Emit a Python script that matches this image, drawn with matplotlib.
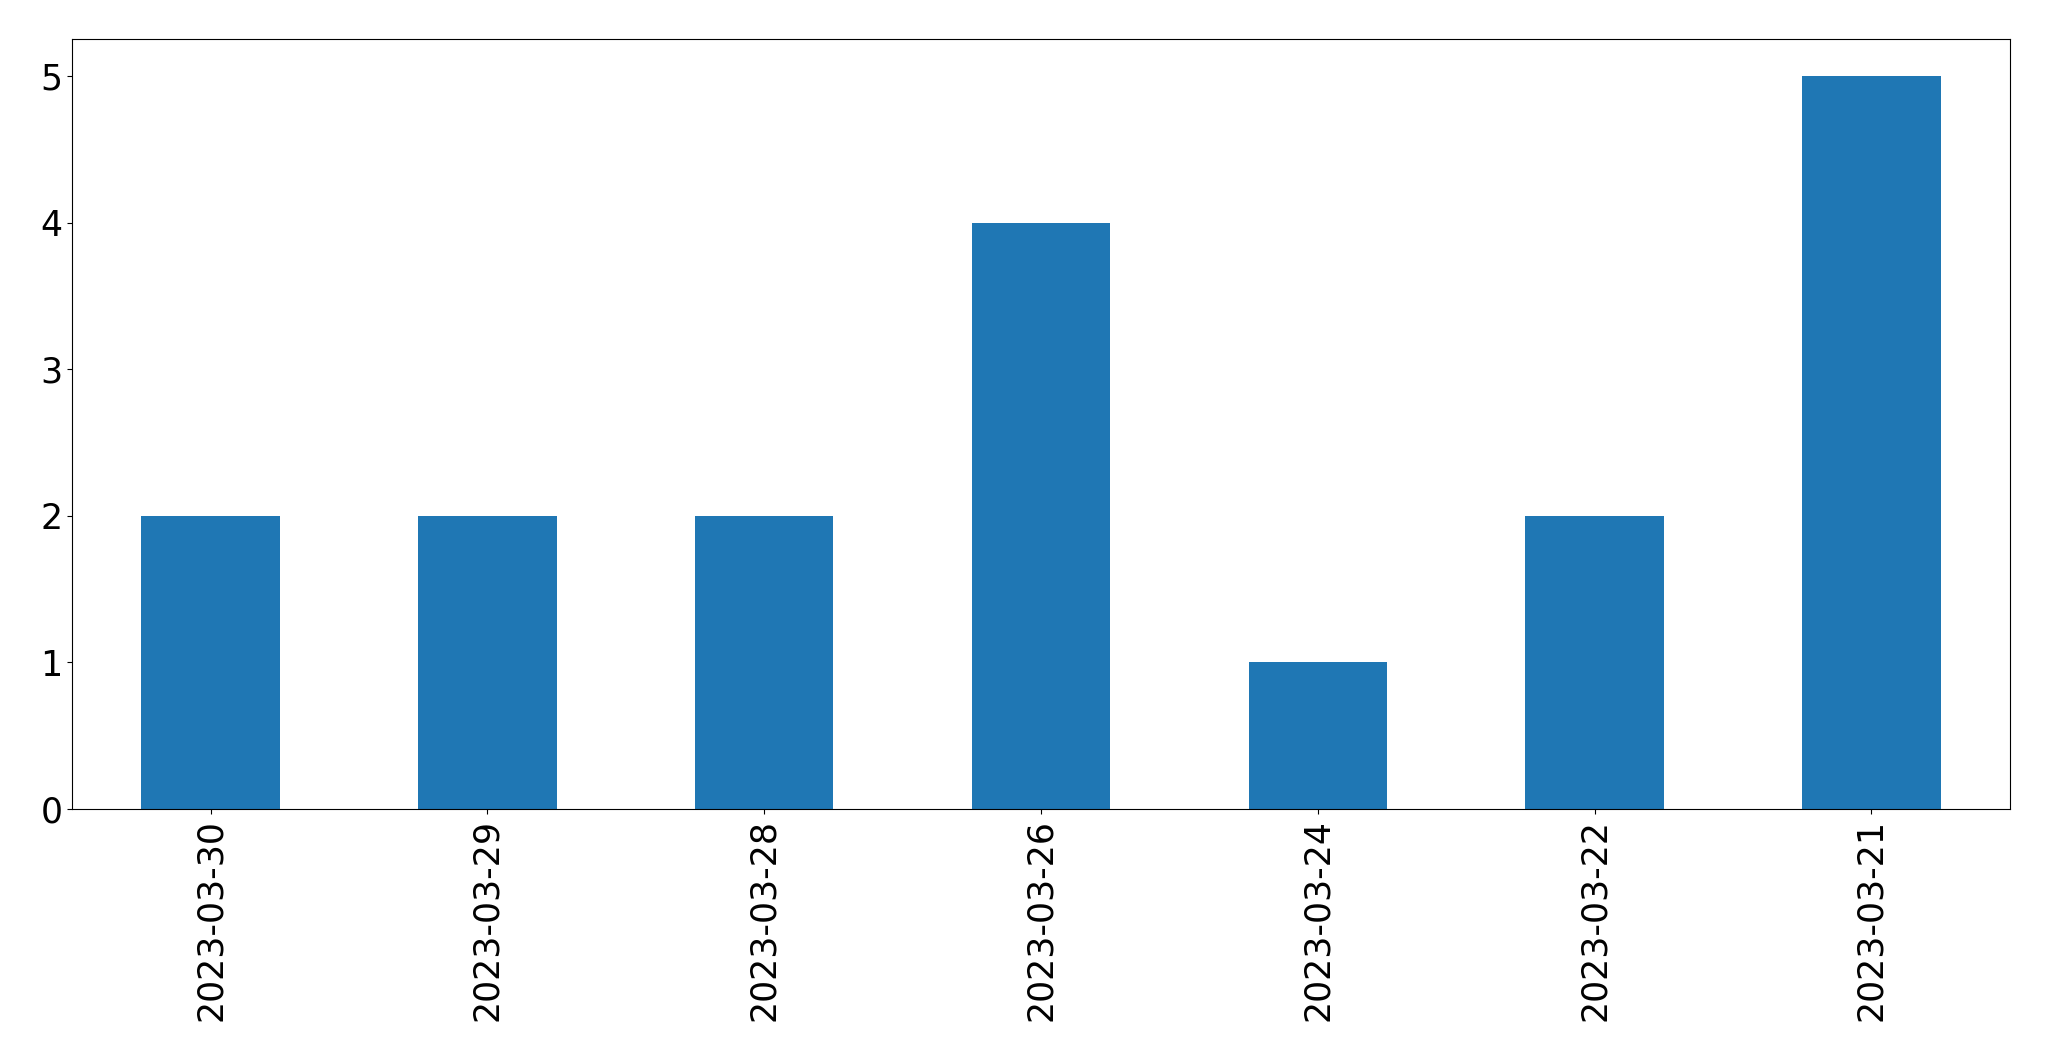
import matplotlib
matplotlib.use("Agg")
import matplotlib.pyplot as plt

dates = ["2023-03-30", "2023-03-29", "2023-03-28", "2023-03-26", "2023-03-24", "2023-03-22", "2023-03-21"]
counts = [2, 2, 2, 4, 1, 2, 5]

fig = plt.figure(figsize=(20.49, 10.61), dpi=100)
ax = fig.add_axes([72.3/2049, 1-809/1061, (2009.7-72.3)/2049, (809-39.3)/1061])
x = list(range(len(dates)))
ax.bar(x, counts, width=0.5, color="#1f77b4")
ax.set_xlim(-0.5, len(dates)-0.5)
ax.set_ylim(0, 5.25)
ax.set_xticks(x)
ax.set_xticklabels(dates, rotation=90)
ax.tick_params(labelsize=25)
fig.savefig("out.png", dpi=100)
